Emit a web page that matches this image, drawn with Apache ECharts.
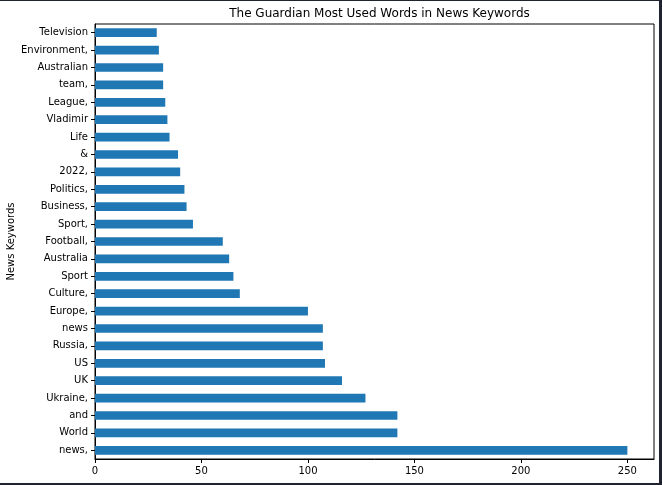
<!DOCTYPE html>
<html>
<head>
<meta charset="utf-8">
<script src="https://cdn.jsdelivr.net/npm/echarts@6/dist/echarts.min.js"></script>
<style>
  html, body { margin: 0; padding: 0; background: #fff; }
  #chart { width: 662px; height: 485px; }
</style>
</head>
<body>
<div id="chart"></div>
<script>
// top to bottom, as in the picture
var keywords = ["Television", "Environment,", "Australian", "team,", "League,", "Vladimir", "Life", "&",
  "2022,", "Politics,", "Business,", "Sport,", "Football,", "Australia", "Sport", "Culture,",
  "Europe,", "news", "Russia,", "US", "UK", "Ukraine,", "and", "World", "news,"];
var counts = [29, 30, 32, 32, 33, 34, 35, 39, 40, 42, 43, 46, 60, 63, 65, 68,
  100, 107, 107, 108, 116, 127, 142, 142, 250];
var xTicks = [0, 50, 100, 150, 200, 250];

var font = "DejaVu Sans";
var chart = echarts.init(document.getElementById("chart"));
chart.setOption({
  animation: false,
  textStyle: { fontFamily: font },
  title: {
    text: "The Guardian Most Used Words in News Keywords",
    left: 374.5,
    textAlign: "center",
    top: 3,
    textStyle: { fontFamily: font, fontSize: 12, fontWeight: "normal", color: "#000" }
  },
  grid: {
    left: 95, right: 8, top: 24, bottom: 26,
    containLabel: false,
    outerBoundsMode: "none",
    show: true, borderColor: "#000", borderWidth: 1, backgroundColor: "#fff"
  },
  xAxis: {
    type: "value",
    min: 0,
    max: 262.5,
    interval: 50,
    splitLine: { show: false },
    axisLine: { show: true, lineStyle: { color: "#000", width: 1 } },
    axisTick: { show: true, length: 4, lineStyle: { color: "#000" }, customValues: xTicks },
    axisLabel: { margin: 7, fontSize: 10, color: "#000", fontFamily: font, customValues: xTicks }
  },
  yAxis: {
    type: "category",
    data: keywords,
    inverse: true,
    name: "News Keywords",
    nameLocation: "middle",
    nameMoveOverlap: false,
    nameGap: 79,
    nameTextStyle: { fontSize: 10, color: "#000", fontFamily: font },
    axisLine: { show: true, lineStyle: { color: "#000", width: 1 } },
    axisTick: { show: true, alignWithLabel: true, length: 4, lineStyle: { color: "#000" } },
    axisLabel: { margin: 7, fontSize: 10, color: "#000", fontFamily: font, interval: 0, padding: [2, 0, 0, 0] },
    splitLine: { show: false }
  },
  series: [{
    type: "bar",
    data: counts,
    barWidth: "50%",
    itemStyle: { color: "#1f77b4" }
  }],
  graphic: [
    { type: "rect", shape: { x: 0, y: 0, width: 662, height: 1 }, style: { fill: "#1f2330" } },
    { type: "rect", shape: { x: 659, y: 0, width: 3, height: 485 }, style: { fill: "#1f2330" } },
    { type: "rect", shape: { x: 0, y: 483, width: 662, height: 2 }, style: { fill: "#1f2330" } }
  ]
});
</script>
</body>
</html>
